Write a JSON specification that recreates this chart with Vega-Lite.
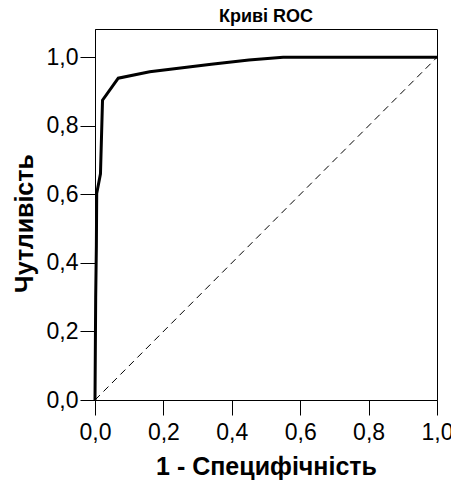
{
  "$schema": "https://vega.github.io/schema/vega-lite/v6.json",
  "autosize": "none",
  "width": 342,
  "height": 371,
  "padding": {"left": 95, "top": 29, "right": 14, "bottom": 81},
  "background": "white",
  "title": {"text": "Криві ROC", "font": "Liberation Sans", "fontSize": 18, "fontWeight": "bold", "color": "black", "anchor": "middle", "frame": "group", "baseline": "alphabetic", "offset": 3, "dy": 14},
  "config": {
    "view": {"stroke": "black", "strokeWidth": 1},
    "axis": {"grid": false, "domainColor": "black", "tickColor": "black", "labelColor": "black", "titleColor": "black", "labelFont": "Liberation Sans", "titleFont": "Liberation Sans", "labelFontSize": 23, "titleFontSize": 25, "titleFontWeight": "bold", "tickSize": 15, "domainWidth": 1, "tickWidth": 1}
  },
  "layer": [
    {
      "data": {"values": [
        {"i": 0, "x": 0, "y": 0},
        {"i": 1, "x": 1, "y": 1}
      ]},
      "mark": {"type": "line", "color": "black", "strokeWidth": 1, "strokeDash": [7, 5]},
      "encoding": {
        "x": {"field": "x", "type": "quantitative", "scale": {"domain": [0, 1], "nice": false},
          "axis": {"values": [0, 0.2, 0.4, 0.6, 0.8, 1.0], "labelExpr": "replace(format(datum.value, '.1f'), '.', ',')", "labelPadding": 6, "title": "1 - Специфічність", "titleY": 74, "titleBaseline": "alphabetic", "labelFlush": false, "labelOverlap": false}},
        "y": {"field": "y", "type": "quantitative", "scale": {"domain": [0, 1.0826], "nice": false},
          "axis": {"values": [0, 0.2, 0.4, 0.6, 0.8, 1.0], "labelExpr": "replace(format(datum.value, '.1f'), '.', ',')", "labelPadding": 2, "title": "Чутливість", "titleX": -63, "titleY": 194, "titleBaseline": "alphabetic", "titleAngle": -90, "titleAlign": "center", "labelFlush": false, "labelOverlap": false}},
        "order": {"field": "i", "type": "quantitative"}
      }
    },
    {
      "data": {"values": [
        {"i": 0, "x": 0, "y": 0},
        {"i": 1, "x": 0.002, "y": 0.3},
        {"i": 2, "x": 0.004, "y": 0.45},
        {"i": 3, "x": 0.005, "y": 0.603},
        {"i": 4, "x": 0.016, "y": 0.66},
        {"i": 5, "x": 0.022, "y": 0.875},
        {"i": 6, "x": 0.068, "y": 0.939},
        {"i": 7, "x": 0.16, "y": 0.958},
        {"i": 8, "x": 0.34, "y": 0.98},
        {"i": 9, "x": 0.45, "y": 0.992},
        {"i": 10, "x": 0.55, "y": 1.0},
        {"i": 11, "x": 1.0, "y": 1.0}
      ]},
      "mark": {"type": "line", "color": "black", "strokeWidth": 3, "strokeJoin": "miter"},
      "encoding": {
        "x": {"field": "x", "type": "quantitative"},
        "y": {"field": "y", "type": "quantitative"},
        "order": {"field": "i", "type": "quantitative"}
      }
    }
  ]
}
